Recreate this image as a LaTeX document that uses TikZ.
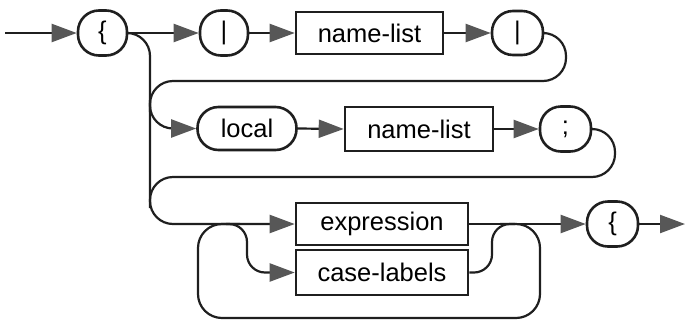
\documentclass[tikz,border=0pt]{standalone}
\usepackage{fontspec}
\setmainfont{Liberation Sans}
\usetikzlibrary{arrows.meta}
\begin{document}
\begin{tikzpicture}[x=1pt,y=-1pt,
  line/.style={draw=black!88, line width=2.2pt},
  arr/.style={line, -{Triangle[length=25pt,width=18pt,color=black!66]}},
  box/.style={draw=black!88, line width=2.6pt, rectangle, inner sep=0pt,
              font=\fontsize{25.5}{30}\selectfont},
  term/.style={box, rounded corners=21pt},
]
\useasboundingbox (0,0) rectangle (685,322);

% row 1
\coordinate (in) at (5,33);
\node[term, minimum width=49pt, minimum height=45pt] (lb1) at (102.5,33) {\{};
\node[term, minimum width=48pt, minimum height=45pt] (bar1) at (224,33) {|};
\node[box, minimum width=147pt, minimum height=42pt] (nl1) at (369.5,33) {name-list};
\node[term, minimum width=51pt, minimum height=44pt] (bar2) at (517.5,33) {|};

% row 2
\node[term, minimum width=99pt, minimum height=43pt] (loc) at (247,128.5) {local};
\node[box, minimum width=148pt, minimum height=44pt] (nl2) at (419,129) {name-list};
\node[term, minimum width=51pt, minimum height=45pt] (semi) at (565.5,129) {;};

% row 3
\node[box, minimum width=172pt, minimum height=42pt] (expr) at (382,224) {expression};
\node[box, minimum width=172pt, minimum height=45pt] (case) at (382,272.5) {case-labels};
\node[term, minimum width=51pt, minimum height=45pt] (lb2) at (612.5,224) {\{};
\coordinate (out) at (685,224);

% straight connections
\draw[arr] (in) -- (lb1.west);
\draw[arr] (lb1.east) -- (bar1.west);
\draw[arr] (bar1.east) -- (nl1.west);
\draw[arr] (nl1.east) -- (bar2.west);
\draw[arr] (loc.east) -- (nl2.west);
\draw[arr] (nl2.east) -- (semi.west);
\draw[arr] (expr.east) -- (lb2.west);
\draw[arr] (lb2.east) -- (out);

% trunk down the left side
\draw[arr, rounded corners=23pt] (lb1.east) -- (150,33) -- (150,224) -- (expr.west);
\draw[arr, rounded corners=23pt] (150,100) -- (150,128.5) -- (loc.west);

% returns from the ends of rows 1 and 2
\draw[line, rounded corners=23pt] (bar2.east) -- (566,33) -- (566,81) -- (150,81) -- (150,112);
\draw[line, rounded corners=23pt] (semi.east) -- (615,129) -- (615,177) -- (150,177) -- (150,208);

% case-labels branch
\draw[arr, rounded corners=18pt] (226,224) -- (247,224) -- (247,272.5) -- (case.west);
\draw[line, rounded corners=18pt] (case.east) -- (492,272.5) -- (492,224) -- (515,224);

% repetition loop under row 3
\draw[line, rounded corners=24pt] (500,224) -- (540,224) -- (540,318) -- (198,318) -- (198,224) -- (240,224);
\end{tikzpicture}
\end{document}
